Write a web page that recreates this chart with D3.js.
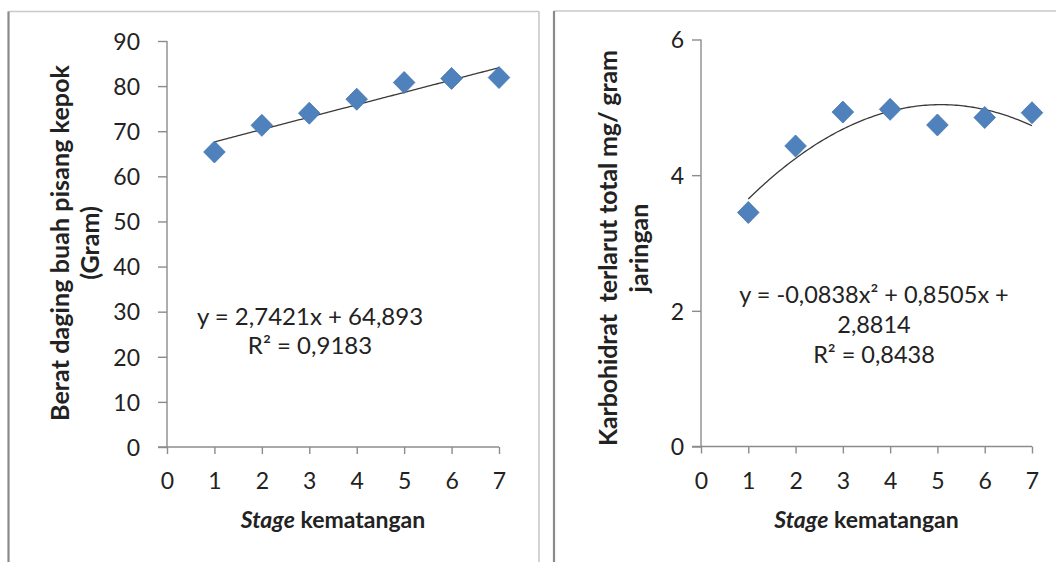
<!DOCTYPE html>
<html>
<head>
<meta charset="utf-8">
<script src="https://cdn.jsdelivr.net/npm/d3@7"></script>
<style>
  html, body { margin: 0; padding: 0; background: #fff; }
  svg { display: block; }
  text { font-family: Lato, "Open Sans", sans-serif; fill: #222; }
</style>
</head>
<body>
<svg id="chart" width="1056" height="562"></svg>
<script>
// ---- data ----
const stages = [1, 2, 3, 4, 5, 6, 7];
const xTicks = [0, 1, 2, 3, 4, 5, 6, 7];

const weightValues = [65.4, 71.3, 74.0, 77.1, 80.8, 81.7, 81.9];
const weightTicks = [0, 10, 20, 30, 40, 50, 60, 70, 80, 90];
const weightFit = [2.7421, 64.893]; // slope, intercept
const weightEqLines = ["y = 2,7421x + 64,893", "R\u00B2 = 0,9183"];
const weightYTitle = ["Berat daging buah pisang kepok", "(Gram)"];

const carbValues = [3.45, 4.43, 4.93, 4.97, 4.74, 4.85, 4.92];
const carbTicks = [0, 2, 4, 6];
const carbFit = [-0.0838, 0.8505, 2.8814]; // a, b, c
const carbEqLines = ["y = -0,0838x\u00B2 + 0,8505x +", "2,8814", "R\u00B2 = 0,8438"];
const carbYTitle = ["Karbohidrat  terlarut total mg/ gram", "jaringan"];

const xTitleItalic = "Stage";
const xTitleRest = " kematangan";

// ---- drawing ----
const svg = d3.select("#chart");

// panel frames
function frame(x0, x1, y0) {
  svg.append("line").attr("x1", x0).attr("x2", x1).attr("y1", y0).attr("y2", y0)
    .attr("stroke", "#c9c9c9").attr("stroke-width", 1.5);
  svg.append("line").attr("x1", x0).attr("x2", x0).attr("y1", y0).attr("y2", 562)
    .attr("stroke", "#8a8a8a").attr("stroke-width", 2.2);
  if (x1 < 1056) {
    svg.append("line").attr("x1", x1).attr("x2", x1).attr("y1", y0).attr("y2", 562)
      .attr("stroke", "#c4c4c4").attr("stroke-width", 1.5);
  }
}
frame(8.5, 539, 11.5);
frame(554, 1060, 11);

function diamond(x, y) {
  const rx = 10.8, ry = 11;
  return `M${x},${y - ry}L${x + rx},${y}L${x},${y + ry}L${x - rx},${y}Z`;
}

function panel(cfg) {
  const g = svg.append("g");
  const x = d3.scaleLinear().domain([0, 7]).range(cfg.xRange);
  const y = d3.scaleLinear().domain(cfg.yDomain).range(cfg.yRange);
  const axisColor = "#8c8c8c";

  // y axis
  const yAxis = g.append("g").attr("transform", `translate(${cfg.xRange[0]},0)`)
    .call(d3.axisLeft(y).tickValues(cfg.yTicks).tickSize(9).tickPadding(cfg.yPad).tickFormat(d3.format("d")));
  // x axis
  const xAxis = g.append("g").attr("transform", `translate(0,${cfg.yRange[0]})`)
    .call(d3.axisBottom(x).tickValues(xTicks).tickSize(7).tickPadding(0).tickFormat(d3.format("d")));

  [yAxis, xAxis].forEach(a => {
    a.select(".domain").attr("stroke", axisColor).attr("stroke-width", 1.4);
    a.selectAll(".tick line").attr("stroke", axisColor).attr("stroke-width", 1.4);
    a.selectAll(".tick text").style("font-family", "Lato, sans-serif")
      .style("font-size", "23px").attr("fill", "#222");
  });
  xAxis.select(".domain").attr("d", `M${cfg.xRange[0] - 9},0H${cfg.xRange[1]}`);
  yAxis.select(".domain").attr("d", `M0,${cfg.yRange[0]}V${cfg.yRange[1]}`);
  xAxis.selectAll(".tick text").attr("y", 0).attr("dy", 0).attr("transform", "translate(0,42)");
  yAxis.selectAll(".tick text").attr("dy", "0.36em");

  // trend line
  const xs = d3.range(1, 7.0001, 0.05);
  const line = d3.line().x(d => x(d)).y(d => y(cfg.fit(d))).curve(d3.curveLinear);
  g.append("path").datum(xs).attr("d", line)
    .attr("fill", "none").attr("stroke", "#3a3a3a").attr("stroke-width", 1.3);

  // points
  g.selectAll("path.pt").data(stages).join("path").attr("class", "pt")
    .attr("d", (d, i) => diamond(x(d), y(cfg.values[i])))
    .attr("fill", "#4F81BD").attr("stroke", "#4274af").attr("stroke-width", 0.8);

  // equation
  cfg.eqLines.forEach((t, i) => {
    g.append("text").attr("x", cfg.eqX).attr("y", cfg.eqY + i * cfg.eqDy)
      .attr("text-anchor", "middle").style("font-size", cfg.eqSize + "px").text(t);
  });

  // y title
  const cy = cfg.yTitleCy;
  cfg.yTitle.forEach((t, i) => {
    const bx = cfg.yTitleX[i];
    const tt = g.append("text").attr("transform", `translate(${bx},${cy}) rotate(-90)`)
      .attr("text-anchor", "middle").style("font-size", "25px").style("font-weight", "bold")
      .style("white-space", "pre").attr("xml:space", "preserve")
      .text(t);
    if (cfg.yTitleLen[i]) tt.attr("textLength", cfg.yTitleLen[i]).attr("lengthAdjust", "spacing");
  });

  // x title
  const xt = g.append("text").attr("x", (cfg.xRange[0] + cfg.xRange[1]) / 2).attr("y", cfg.xTitleY)
    .attr("text-anchor", "middle").style("font-size", "23px").style("font-weight", "bold");
  xt.append("tspan").style("font-style", "italic").text(xTitleItalic);
  xt.append("tspan").text(xTitleRest);
}

panel({
  xRange: [167, 499],
  yDomain: [0, 90], yRange: [447, 41], yTicks: weightTicks, yPad: 18,
  values: weightValues,
  fit: v => weightFit[0] * v + weightFit[1],
  eqLines: weightEqLines, eqX: 310, eqY: 325, eqDy: 29, eqSize: 24,
  yTitle: weightYTitle, yTitleX: [69, 99], yTitleCy: 243, yTitleLen: [356, null],
  xTitleY: 528
});

panel({
  xRange: [701, 1032],
  yDomain: [0, 6], yRange: [446.5, 39.5], yTicks: carbTicks, yPad: 8,
  values: carbValues,
  fit: v => carbFit[0] * v * v + carbFit[1] * v + carbFit[2],
  eqLines: carbEqLines, eqX: 874, eqY: 303, eqDy: 30, eqSize: 23.5,
  yTitle: carbYTitle, yTitleX: [617, 648], yTitleCy: 248, yTitleLen: [396, null],
  xTitleY: 528
});
</script>
</body>
</html>
